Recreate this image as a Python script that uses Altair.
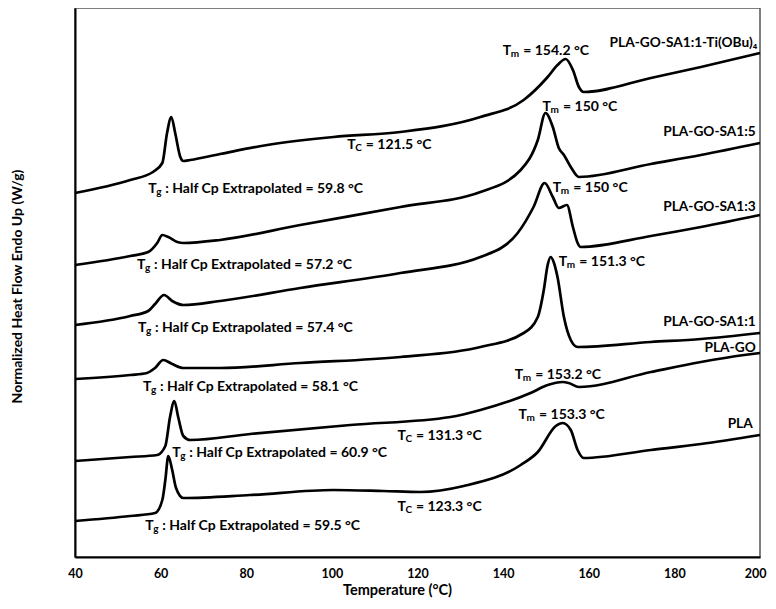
import altair as alt
import pandas as pd

# ---------------- data ----------------
# Temperature (°C) and normalized heat flow (arbitrary units, curves stacked)
ti_T = [40, 52.9, 58.2, 60.4, 61.5, 62.5, 63.4, 64.6, 65.3, 66.9, 73.9, 84.9, 100.4, 116.0,
        134.7, 144.8, 150.4, 152.7, 154.6, 156.3, 157.7, 158.8, 174.5, 186.2, 200]
ti_v = [364, 377, 385, 394, 424, 440, 424, 400, 396, 397, 403, 412, 420, 425,
        440, 457, 480, 492, 498, 487, 470, 465, 479, 490, 504]

sa15_T = [40, 52.9, 57.1, 59.2, 60.4, 61.8, 63.9, 65.3, 73.9, 92.6, 116.0, 134.7, 144.1,
          148.1, 149.9, 151.6, 153.0, 154.2, 155.8, 157.7, 174.5, 186.2, 200]
sa15_v = [292, 301, 305, 314, 322, 320, 315, 314, 317, 332, 350, 365, 387,
          417, 444, 430, 409, 402, 390, 380, 393, 402, 414]

sa13_T = [40, 52.9, 57.1, 58.7, 60.8, 62.7, 65.3, 73.9, 92.6, 116.0, 134.7, 143.4, 147.1,
          149.7, 151.6, 153.0, 154.9, 156.3, 157.4, 158.1, 174.5, 186.2, 200]
sa13_v = [232, 241, 246, 253, 262, 256, 252, 256, 269, 284, 300, 324, 350,
          374, 360, 349, 352, 330, 314, 310, 321, 330, 342]

sa11_T = [40, 52.9, 56.8, 58.7, 60.6, 62.7, 65.3, 73.9, 92.6, 116.0, 134.7, 144.8, 148.1,
          149.5, 150.4, 151.1, 151.8, 152.7, 154.2, 155.8, 157.4, 174.5, 186.2, 200]
sa11_v = [178, 182, 184, 189, 197, 193, 189, 189, 194, 200, 210, 224, 240,
          267, 292, 300, 295, 280, 240, 217, 210, 215, 218, 224]

go_T = [40, 52.9, 59.2, 61.1, 62.2, 63.2, 64.1, 65.3, 66.9, 80.9, 104.3, 127.7, 134.7,
        146.4, 150.4, 153.9, 155.3, 157.7, 174.5, 186.2, 196.3, 200]
go_v = [96, 100, 102, 111, 140, 156, 140, 121, 117, 123, 132, 140, 147,
        164, 172, 175, 174, 170, 185, 195, 202, 204]

pla_T = [40, 52.9, 58.7, 60.4, 61.1, 61.8, 62.7, 63.6, 65.3, 80.9, 100.4, 112.0, 120.7,
         130.8, 144.1, 148.1, 152.3, 153.9, 155.8, 157.4, 158.8, 174.5, 186.2, 200]
pla_v = [36, 41, 44, 57, 77, 101, 87, 69, 59, 62, 67, 66, 65,
         71, 92, 105, 131, 134, 127, 107, 99, 107, 113, 122]

series_names = ["PLA-GO-SA1:1-Ti(OBu)₄", "PLA-GO-SA1:5", "PLA-GO-SA1:3",
                "PLA-GO-SA1:1", "PLA-GO", "PLA"]
series_T = [ti_T, sa15_T, sa13_T, sa11_T, go_T, pla_T]
series_v = [ti_v, sa15_v, sa13_v, sa11_v, go_v, pla_v]

# series name labels (right-aligned near the right edge)
name_T = [199.4, 199.0, 199.0, 199.0, 199.0, 198.3]
name_v = [514, 425, 350, 235, 209, 133]

# annotations: T + subscript + rest
ann_sub = ["m", "m", "m", "m", "m", "m",
           "C", "C", "C",
           "g", "g", "g", "g", "g", "g"]
ann_rest = ["= 154.2 °C", "= 150 °C", "= 150 °C", "= 151.3 °C", "= 153.2 °C", "= 153.3 °C",
            "= 121.5 °C", "= 131.3 °C", "= 123.3 °C",
            ": Half Cp Extrapolated = 59.8 °C", ": Half Cp Extrapolated = 57.2 °C",
            ": Half Cp Extrapolated = 57.4 °C", ": Half Cp Extrapolated = 58.1 °C",
            ": Half Cp Extrapolated = 60.9 °C", ": Half Cp Extrapolated = 59.5 °C"]
ann_T = [139.9, 149.2, 151.6, 153.0, 142.7, 143.6,
         103.6, 115.3, 115.3,
         57.1, 54.5, 54.7, 55.9, 62.7, 56.4]
ann_v = [506, 450, 369, 295, 182, 142,
         412, 121, 50,
         368, 292, 229, 170, 104, 31]

x_ticks = [40, 60, 80, 100, 120, 140, 160, 180, 200]

# ---------------- build tables ----------------
rows = []
for name, Ts, vs in zip(series_names, series_T, series_v):
    for i, (t, v) in enumerate(zip(Ts, vs)):
        rows.append({"series": name, "T": t, "v": v, "i": i})
curves = pd.DataFrame(rows)
names = pd.DataFrame({"label": series_names, "T": name_T, "v": name_v})
ann = pd.DataFrame({"sub": ann_sub, "rest": ann_rest, "T": ann_T, "v": ann_v})

FONT = "Lato"
FS = 14

xscale = alt.Scale(domain=[40, 200], nice=False, zero=False)
yscale = alt.Scale(domain=[0, 549], nice=False, zero=False)

lines = alt.Chart(curves).mark_line(color="black", strokeWidth=2.7, interpolate="monotone").encode(
    x=alt.X("T:Q", scale=xscale,
            axis=alt.Axis(values=x_ticks, title="Temperature (°C)", grid=False, ticks=False,
                          labelPadding=10, labelFlush=False, labelFont=FONT, labelFontWeight="bold",
                          labelFontSize=12.5, labelColor="black",
                          labelAlign={"condition": {"test": "datum.value >= 200", "value": "right"},
                                      "value": "center"},
                          labelOffset={"condition": {"test": "datum.value >= 200", "value": 6},
                                       "value": 0},
                          titleFont=FONT, titleFontWeight="bold",
                          titleFontSize=14.5, titleColor="black", titlePadding=4,
                          titleX=322, titleAnchor="start", titleAlign="center",
                          domainColor="black", domainWidth=2)),
    y=alt.Y("v:Q", scale=yscale,
            axis=alt.Axis(labels=False, ticks=False, grid=False,
                          title="Normalized Heat Flow Endo Up (W/g)", titleFont=FONT,
                          titleFontWeight="bold", titleFontSize=14, titleColor="black",
                          titlePadding=51, titleY=278, titleAnchor="start", titleAlign="center",
                          domainColor="black", domainWidth=2)),
    detail="series:N",
    order="i:Q",
)

name_text = alt.Chart(names).mark_text(align="right", baseline="middle", font=FONT,
                                       fontWeight="bold", fontSize=13.7, color="black").encode(
    x=alt.X("T:Q", scale=xscale), y=alt.Y("v:Q", scale=yscale), text="label:N")

layers = [lines, name_text]
sub_width = {"m": 9.0, "g": 5.5, "C": 7.0}
T_width = 8.0
GAP = 3.5
for kind, w in sub_width.items():
    d = ann[ann["sub"] == kind]
    base = alt.Chart(d).encode(x=alt.X("T:Q", scale=xscale), y=alt.Y("v:Q", scale=yscale))
    layers.append(base.mark_text(align="left", baseline="middle", font=FONT, fontWeight="bold",
                                 fontSize=FS, color="black").encode(text=alt.value("T")))
    layers.append(base.mark_text(align="left", baseline="middle", font=FONT, fontWeight="bold",
                                 fontSize=10, color="black", dx=T_width, dy=3).encode(text="sub:N"))
    layers.append(base.mark_text(align="left", baseline="middle", font=FONT, fontWeight="bold",
                                 fontSize=FS, color="black", dx=T_width + w + GAP).encode(text="rest:N"))

chart = alt.layer(*layers).properties(
    width=685, height=549,
    autosize=alt.AutoSizeParams(type="none"),
    padding={"left": 67, "top": 0, "right": 8, "bottom": 44},
    background="white",
).configure_view(stroke="#555555", strokeWidth=1.5)

chart.save("out.html", embed_options={"renderer": "svg", "actions": False})
